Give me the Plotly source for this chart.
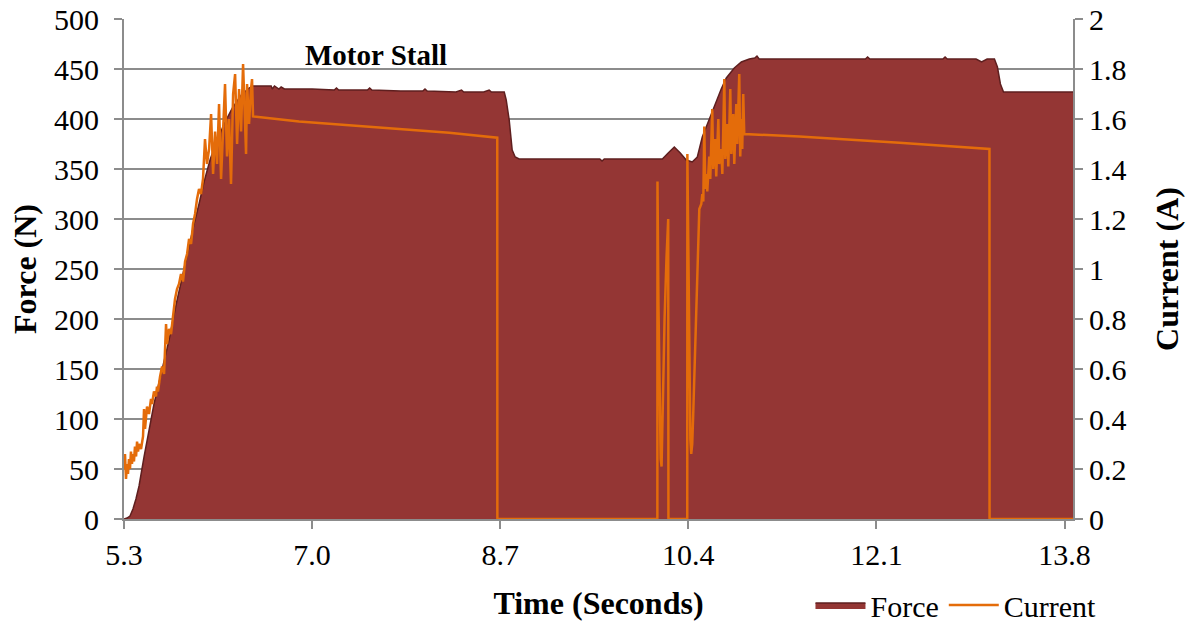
import plotly.graph_objects as go

# ---------------- data ----------------
force_t = [5.300, 5.327, 5.354, 5.381, 5.408, 5.436, 5.481, 5.526, 5.571, 5.616,
           5.662, 5.707, 5.770, 5.842, 5.888, 5.933, 5.978, 6.023, 6.080, 6.140,
           6.204, 6.280, 6.360, 6.430, 6.466, 6.630, 6.640, 6.660, 6.700, 6.720,
           6.750, 7.000, 7.200, 7.220, 7.240, 7.500, 7.520, 7.540, 7.800, 8.000,
           8.020, 8.040, 8.300, 8.350, 8.370, 8.550, 8.600, 8.620, 8.736, 8.754,
           8.781, 8.808, 8.835, 8.871, 9.200, 9.600, 9.620, 9.640, 10.000, 10.165,
           10.218, 10.273, 10.327, 10.381, 10.435, 10.481, 10.526, 10.589, 10.652, 10.697,
           10.743, 10.815, 10.879, 10.951, 11.000, 11.020, 11.040, 11.500, 12.000, 12.020,
           12.040, 12.500, 12.700, 12.720, 12.740, 13.000, 13.050, 13.100, 13.166, 13.193,
           13.220, 13.248, 13.876]
force_n = [0, 1, 3, 10, 20, 33, 62, 90, 115, 136,
           158, 179, 214, 250, 275, 295, 315, 337, 360, 378,
           395, 411, 424, 431, 433, 433, 430, 433, 430, 432,
           430, 430, 429, 431, 429, 429, 431, 429, 428, 428,
           430, 428, 427, 429, 427, 427, 429, 427, 427, 419,
           399, 369, 362, 360, 360, 360, 358, 360, 360, 360,
           366, 372, 366, 359, 357, 362, 382, 400, 416, 430,
           441, 451, 457, 460, 461, 463, 460, 460, 460, 462,
           460, 460, 460, 462, 460, 460, 457, 460, 460, 452,
           435, 427, 427]

current_t = [5.300, 5.309, 5.318, 5.327, 5.336, 5.345, 5.354, 5.363, 5.372, 5.381,
             5.390, 5.399, 5.409, 5.418, 5.427, 5.436, 5.454, 5.472, 5.481, 5.490,
             5.508, 5.526, 5.544, 5.553, 5.571, 5.589, 5.598, 5.607, 5.626, 5.644,
             5.662, 5.680, 5.689, 5.707, 5.725, 5.743, 5.761, 5.779, 5.797, 5.815,
             5.833, 5.852, 5.870, 5.888, 5.906, 5.924, 5.942, 5.960, 5.978, 5.996,
             6.014, 6.032, 6.050, 6.069, 6.087, 6.105, 6.123, 6.141, 6.159, 6.177,
             6.195, 6.213, 6.231, 6.249, 6.267, 6.286, 6.304, 6.322, 6.340, 6.358,
             6.376, 6.394, 6.403, 6.412, 6.430, 6.448, 6.457, 6.466, 6.882, 7.334,
             7.786, 8.239, 8.673, 8.674, 10.120, 10.121, 10.130, 10.140, 10.150, 10.158,
             10.168, 10.185, 10.203, 10.218, 10.220, 10.390, 10.391, 10.400, 10.409, 10.418,
             10.426, 10.435, 10.444, 10.454, 10.463, 10.472, 10.481, 10.490, 10.499, 10.517,
             10.526, 10.535, 10.544, 10.553, 10.562, 10.571, 10.589, 10.598, 10.616, 10.625,
             10.643, 10.652, 10.671, 10.679, 10.698, 10.707, 10.725, 10.734, 10.752, 10.761,
             10.779, 10.788, 10.806, 10.815, 10.833, 10.842, 10.860, 10.869, 10.878, 10.887,
             10.896, 10.905, 11.403, 12.307, 13.121, 13.122, 13.876]
current_a = [0.20, 0.26, 0.16, 0.22, 0.18, 0.24, 0.20, 0.27, 0.22, 0.26,
             0.23, 0.29, 0.25, 0.31, 0.27, 0.30, 0.28, 0.33, 0.44, 0.36,
             0.45, 0.42, 0.48, 0.46, 0.51, 0.49, 0.53, 0.51, 0.57, 0.61,
             0.58, 0.78, 0.70, 0.76, 0.74, 0.82, 0.88, 0.92, 0.94, 0.98,
             0.95, 1.03, 1.06, 1.12, 1.10, 1.18, 1.22, 1.28, 1.32, 1.30,
             1.36, 1.52, 1.42, 1.48, 1.62, 1.38, 1.55, 1.42, 1.66, 1.36,
             1.58, 1.74, 1.45, 1.60, 1.34, 1.70, 1.78, 1.50, 1.72, 1.55,
             1.82, 1.62, 1.46, 1.74, 1.58, 1.72, 1.76, 1.61, 1.59, 1.575,
             1.56, 1.545, 1.525, 0.0, 0.0, 1.35, 0.85, 0.45, 0.24, 0.21,
             0.45, 0.80, 1.05, 1.20, 0.0, 0.0, 1.46, 1.05, 0.55, 0.32,
             0.26, 0.30, 0.42, 0.58, 0.72, 0.88, 1.02, 1.14, 1.24, 1.26,
             1.30, 1.27, 1.57, 1.32, 1.38, 1.31, 1.45, 1.36, 1.64, 1.40,
             1.52, 1.37, 1.60, 1.42, 1.48, 1.38, 1.76, 1.44, 1.58, 1.41,
             1.72, 1.46, 1.62, 1.42, 1.66, 1.50, 1.78, 1.45, 1.60, 1.48,
             1.70, 1.54, 1.53, 1.505, 1.48, 0.0, 0.0]

x_tickvals = [5.3, 7.0, 8.7, 10.4, 12.1, 13.8]
x_ticktext = ["5.3", "7.0", "8.7", "10.4", "12.1", "13.8"]
force_ticks = [0, 50, 100, 150, 200, 250, 300, 350, 400, 450, 500]
current_ticks = [0, 0.2, 0.4, 0.6, 0.8, 1.0, 1.2, 1.4, 1.6, 1.8, 2.0]
current_ticktext = ["0", "0.2", "0.4", "0.6", "0.8", "1", "1.2", "1.4", "1.6", "1.8", "2"]

# ---------------- figure ----------------
FONT = "Liberation Serif"
GRID = "#8c8c8c"
TICKF = dict(family=FONT, size=30, color="black")
TITLEF = dict(family=FONT, size=32, color="black")
LEGF = dict(family=FONT, size=30, color="black")
ANNF = dict(family=FONT, size=29, color="black")

fig = go.Figure()
fig.add_trace(go.Scatter(
    x=force_t, y=force_n, name="Force", mode="lines",
    line=dict(color="#5e1f1f", width=1.5), fill="tozeroy", fillcolor="#943634",
    yaxis="y"))
fig.add_trace(go.Scatter(
    x=current_t, y=current_a, name="Current", mode="lines",
    line=dict(color="#E46C0A", width=2.5), yaxis="y2"))

fig.update_layout(
    width=1189, height=625,
    margin=dict(l=124, r=115.5, t=19, b=106, autoexpand=False),
    paper_bgcolor="white", plot_bgcolor="white",
    font=TICKF,
    showlegend=True,
    legend=dict(orientation="h", x=1.03, xanchor="right", y=-0.172, yanchor="middle",
                font=LEGF, itemwidth=50, tracegroupgap=0, bgcolor="rgba(0,0,0,0)"),
    xaxis=dict(range=[5.3, 13.876], tickvals=x_tickvals, ticktext=x_ticktext,
               showgrid=False, zeroline=False, showline=True, linecolor=GRID, linewidth=2,
               ticks="outside", ticklen=8, tickwidth=2, tickcolor=GRID, automargin=False,
               tickfont=TICKF, ticklabelstandoff=0, ticklabeloverflow="allow",
               title=dict(text="<b>Time (Seconds)</b>", standoff=22, font=TITLEF)),
    yaxis=dict(range=[0, 500], tickvals=force_ticks, showgrid=True, gridcolor=GRID, gridwidth=2,
               zeroline=False, showline=True, linecolor=GRID, linewidth=2, automargin=False,
               ticks="outside", ticklen=8, tickwidth=2, tickcolor=GRID,
               tickfont=TICKF, ticklabelstandoff=9, ticklabeloverflow="allow",
               title=dict(text="<b>Force (N)</b>", standoff=8, font=TITLEF)),
    yaxis2=dict(range=[0, 2], tickvals=current_ticks, ticktext=current_ticktext,
                overlaying="y", side="right", showgrid=False, zeroline=False,
                showline=True, linecolor=GRID, linewidth=2, automargin=False,
                ticks="outside", ticklen=8, tickwidth=2, tickcolor=GRID,
                tickfont=TICKF, ticklabelstandoff=0, ticklabeloverflow="allow",
                title=dict(text="<b>Current (A)</b>", standoff=30, font=TITLEF)),
    annotations=[dict(text="<b>Motor Stall</b>", x=7.58, y=464, xref="x", yref="y",
                      showarrow=False, font=ANNF)],
)

# remove the browser's default 8px body margin so the figure fills the window exactly
fig.write_html("out.html", config={"displayModeBar": False},
               post_script="document.body.style.margin='0';")
